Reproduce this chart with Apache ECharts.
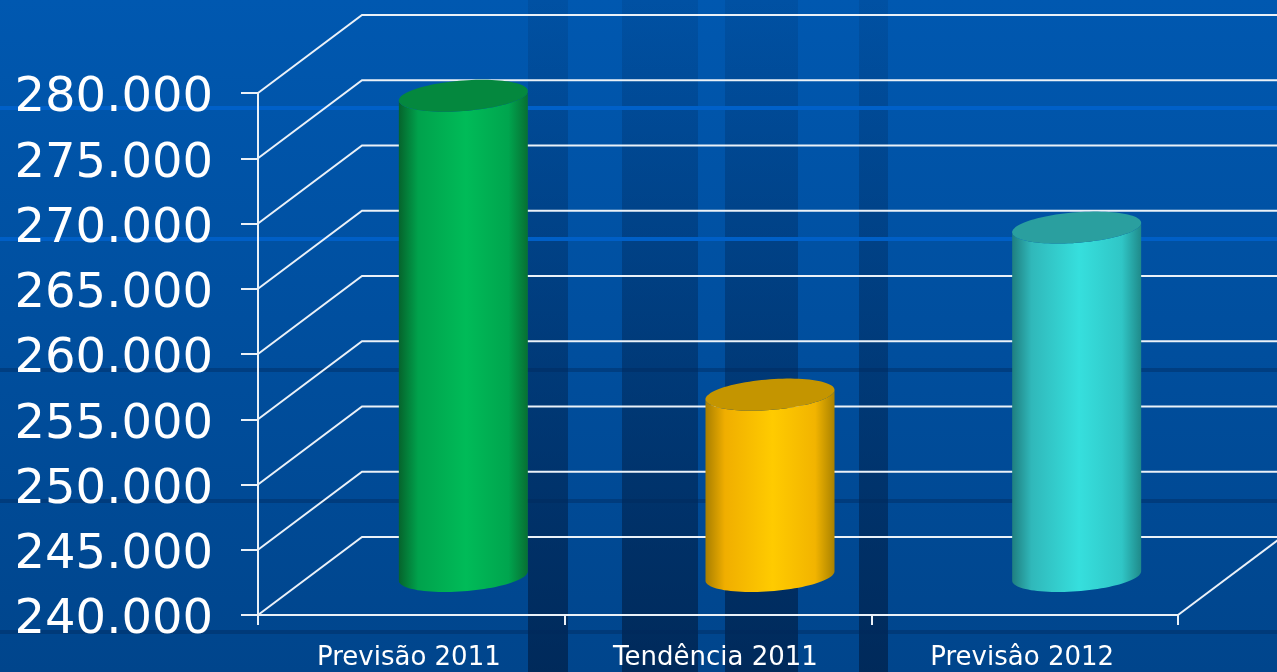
<!DOCTYPE html>
<html><head><meta charset="utf-8">
<style>html,body{margin:0;padding:0;background:#00458a}#c{width:1277px;height:672px}</style>
<script src="https://cdn.jsdelivr.net/npm/echarts@6/dist/echarts.min.js"></script>
</head><body><div id="c"></div>
<script>
const categories = ['Previsão 2011', 'Tendência 2011', 'Previsâo 2012'];
const values = [276800, 253900, 266700];
const bodyColors = [
  ['#05642c', '#00a24c', '#00bb58', '#00a54e', '#076f33'],
  ['#a87f00', '#f0ae00', '#ffcb00', '#f2b400', '#a98200'],
  ['#1f7f80', '#30b8ba', '#36dfdd', '#30c6c6', '#1f8a8a']
];
const capColors = ['#04883e', '#c49500', '#2a9f9f'];
const yMin = 240000, yMax = 280000, yStep = 5000;
const yTicks = [240000, 245000, 250000, 255000, 260000, 265000, 270000, 275000, 280000];

const DEPTH_X = 104, DEPTH_Y = 78, CYL_W = 129, TILT = 4.7, CAP_RY = 16;
const LINE = '#eaf1f8';

function fmt(v) { return '{a|' + String(v).replace(/(\d{3})$/, '.$1') + '}'; }

function ellipsePt(cx, cy, t) {
  const a = CYL_W / 2;
  return [cx + a * Math.cos(t), cy - TILT * Math.cos(t) + Math.sqrt(CAP_RY * CAP_RY - TILT * TILT) * Math.sin(t)];
}

function renderCyl(params, api) {
  const idx = api.value(0), val = api.value(1);
  const top = api.coord([idx, val]), base = api.coord([idx, yMin]);
  const cx = top[0] + DEPTH_X / 2;
  const ty = top[1] - DEPTH_Y / 2, by = base[1] - DEPTH_Y / 2;
  const body = [], cap = [];
  const N = 48;
  for (let i = 0; i <= N; i++) body.push(ellipsePt(cx, by, Math.PI * i / N));
  for (let i = 0; i <= N; i++) body.push(ellipsePt(cx, ty, Math.PI - Math.PI * i / N));
  for (let i = 0; i < N * 2; i++) cap.push(ellipsePt(cx, ty, Math.PI * i / N));
  const c = bodyColors[idx];
  return {
    type: 'group',
    children: [
      { type: 'polygon', shape: { points: body }, style: { fill: new echarts.graphic.LinearGradient(0, 0, 1, 0, [
        { offset: 0, color: c[0] }, { offset: 0.15, color: c[1] }, { offset: 0.52, color: c[2] },
        { offset: 0.85, color: c[3] }, { offset: 1, color: c[4] }]) } },
      { type: 'polygon', shape: { points: cap }, style: { fill: capColors[idx] } }
    ]
  };
}

function renderWall(params, api) {
  const v = api.value(0);
  const p = api.coord([0, v]);
  const cs = params.coordSys;
  const x0 = cs.x, y = p[1];
  const isBase = v === yMin;
  const children = [{
    type: 'polyline',
    shape: { points: [[x0, y], [x0 + DEPTH_X, y - DEPTH_Y], [x0 + cs.width + DEPTH_X, y - DEPTH_Y]] },
    style: { fill: null, stroke: LINE, lineWidth: 2 }
  }];
  if (isBase) children.push({
    type: 'line',
    shape: { x1: x0 + cs.width, y1: y, x2: x0 + cs.width + DEPTH_X, y2: y - DEPTH_Y },
    style: { stroke: LINE, lineWidth: 2 }
  });
  return { type: 'group', children };
}

function vBand(x, w, top, bottom) {
  return { type: 'rect', z: -10, shape: { x, y: 0, width: w, height: 672 },
    style: { fill: new echarts.graphic.LinearGradient(0, 0, 0, 1, [{ offset: 0, color: top }, { offset: 1, color: bottom }]) } };
}
function hBand(y, color) {
  return { type: 'rect', z: -5, shape: { x: 0, y: y - 2, width: 1277, height: 4 }, style: { fill: color } };
}

const bandTop = 'rgba(0,30,70,0.12)', bandBottom = 'rgba(0,25,60,0.62)', darkLine = 'rgba(0,40,90,0.4)';
const chart = echarts.init(document.getElementById('c'), null, { renderer: 'canvas' });
chart.setOption({
  animation: false,
  backgroundColor: new echarts.graphic.LinearGradient(0, 0, 0, 1, [
    { offset: 0, color: '#0058b0' }, { offset: 1, color: '#00458c' }]),
  graphic: { elements: [
    vBand(528, 40, bandTop, bandBottom),
    vBand(622, 76, bandTop, bandBottom),
    vBand(725, 73, bandTop, bandBottom),
    vBand(859, 29, bandTop, bandBottom),
    hBand(108, '#0060c8'), hBand(239, '#005fc6'),
    hBand(370, darkLine), hBand(501, darkLine), hBand(632, darkLine)
  ] },
  grid: { left: 258, right: 99, top: 93, bottom: 57 },
  xAxis: {
    type: 'category', data: categories, z: 6,
    axisLine: { lineStyle: { color: LINE, width: 2 } },
    axisTick: { show: true, alignWithLabel: false, length: 10, lineStyle: { color: LINE, width: 2 } },
    axisLabel: { color: '#fff', fontFamily: 'DejaVu Sans', fontSize: 26, margin: 30, interval: 0, padding: [0, 5, 0, 0] }
  },
  yAxis: {
    type: 'value', min: yMin, max: yMax, interval: yStep, z: 6,
    axisLine: { show: true, lineStyle: { color: LINE, width: 2 } },
    axisTick: { show: true, length: 17, lineStyle: { color: LINE, width: 2 } },
    splitLine: { show: false },
    axisLabel: { margin: 45, formatter: fmt,
      rich: { a: { color: '#fff', fontFamily: 'DejaVu Sans', fontSize: 48, lineHeight: 60, verticalAlign: 'bottom' } } }
  },
  series: [
    { type: 'custom', z: 3, clip: false, silent: true, renderItem: renderWall,
      encode: { y: 0 }, data: yTicks.map(v => [v]) },
    { type: 'custom', z: 4, clip: false, silent: true, renderItem: renderCyl,
      encode: { x: 0, y: 1 }, data: values.map((v, i) => [i, v]) }
  ]
});
</script></body></html>
